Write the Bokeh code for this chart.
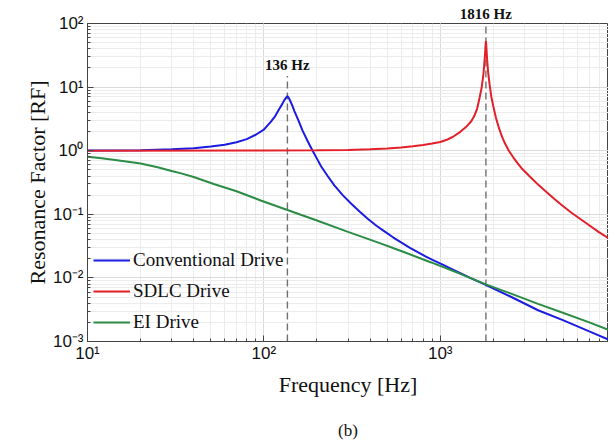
import math
from bokeh.plotting import figure
from bokeh.models import (Label, Legend, LegendItem, Title, Range1d,
                          CustomJSTickFormatter, ColumnDataSource)
from bokeh.embed import file_html
from bokeh.resources import INLINE

# ---- data ----
freq_conv = [10, 20, 30, 40, 50, 60, 70, 80, 90, 100, 110, 116, 122, 127, 131, 134, 136, 138, 141,
             145, 149, 157, 166, 177, 189, 200, 211, 230, 251, 280, 312, 350, 388, 435, 483, 540,
             600, 670, 746, 830, 929, 1040, 1157, 1300, 1500, 1786, 2500, 3588, 5000, 7000, 9000]
rf_conv = [1.005, 1.02, 1.05, 1.095, 1.16, 1.24, 1.36, 1.52, 1.78, 2.15, 2.9, 3.5, 4.5, 5.4, 6.3,
           6.9, 7.2, 6.9, 6.1, 5.1, 4.2, 3.0, 2.05, 1.42, 1.0, 0.75, 0.57, 0.40, 0.285, 0.20,
           0.148, 0.110, 0.085, 0.066, 0.054, 0.0435, 0.0362, 0.0300, 0.0254, 0.0216, 0.0185,
           0.0160, 0.0139, 0.0119, 0.0098, 0.0079, 0.0051, 0.0031, 0.00215, 0.00144, 0.00107]

freq_sdlc = [10, 100, 200, 300, 400, 500, 600, 700, 800, 900, 1000, 1100, 1200, 1300, 1400, 1500,
             1560, 1620, 1672, 1720, 1760, 1790, 1808, 1816, 1825, 1845, 1870, 1905, 1950, 2000,
             2070, 2150, 2230, 2319, 2450, 2600, 2750, 2884, 3200, 3588, 4000, 4460, 5000, 5550,
             6200, 6900, 7900, 9000]
rf_sdlc = [1.0, 1.003, 1.012, 1.03, 1.05, 1.08, 1.12, 1.17, 1.23, 1.3, 1.37, 1.5, 1.7, 1.98, 2.35,
           2.9, 3.5, 4.6, 6.8, 10, 16.5, 29, 46, 53, 45, 27, 17, 11, 7.0, 5.0,
           3.3, 2.3, 1.72, 1.33, 1.0, 0.78, 0.63, 0.535, 0.40, 0.293, 0.225, 0.172, 0.133, 0.106,
           0.085, 0.069, 0.053, 0.042]

freq_ei = [10, 12, 14, 17, 20, 25, 30, 34, 40, 52, 70, 96, 136, 200, 300, 450, 600, 889, 1300,
           1816, 2500, 3588, 5000, 7000, 9000]
rf_ei = [0.80, 0.76, 0.72, 0.67, 0.63, 0.55, 0.48, 0.44, 0.385, 0.30, 0.23, 0.165, 0.117, 0.080,
         0.053, 0.0355, 0.0265, 0.0175, 0.0116, 0.0079, 0.0057, 0.0039, 0.0028, 0.0020, 0.00153]

series_names = ["Conventional Drive", "SDLC Drive", "EI Drive"]
series_colors = ["#1c1ce0", "#e3202a", "#2b8c45"]

peak_freqs = [136, 1816]
peak_labels = ["136 Hz", "1816 Hz"]
peak_line_tops = [15, 100]

x_lim = (10, 9000)
y_lim = (1e-3, 1e2)

SERIF = "Liberation Serif"
SANS = "Liberation Sans"
FRAME_W = 521
FRAME_H = 318
PEAK_FONT_PX = 15

p = figure(frame_width=FRAME_W, frame_height=FRAME_H, x_axis_type="log", y_axis_type="log",
           x_range=Range1d(*x_lim), y_range=Range1d(*y_lim),
           output_backend="svg", toolbar_location=None,
           min_border_left=87, min_border_right=0, min_border_top=23, min_border_bottom=0)

p.outline_line_color = "#444444"
p.outline_line_width = 1

# grids
for g in (p.xgrid, p.ygrid):
    g.grid_line_color = "#dadada"
    g.grid_line_width = 1
    g.minor_grid_line_color = "#ececec"
    g.minor_grid_line_width = 1

# power-of-ten labels with unicode superscripts
pow_fmt = CustomJSTickFormatter(code="""
const sup = {'0':'\\u2070','1':'\\u00b9','2':'\\u00b2','3':'\\u00b3','4':'\\u2074',
             '5':'\\u2075','6':'\\u2076','7':'\\u2077','8':'\\u2078','9':'\\u2079','-':'\\u207b'};
const e = Math.round(Math.log10(tick));
return '10' + String(e).split('').map(c => sup[c]).join('');
""")

# axes styling
for ax in (p.xaxis[0], p.yaxis[0]):
    ax.formatter = pow_fmt
    ax.major_label_text_font = SANS
    ax.major_label_text_font_size = "17px"
    ax.major_label_text_color = "#111111"
    ax.axis_label_text_font = SERIF
    ax.axis_label_text_font_style = "normal"
    ax.axis_label_text_font_size = "22px"
    ax.axis_label_text_color = "#111111"
    ax.axis_line_color = "#444444"
    ax.major_tick_in = 6
    ax.major_tick_out = 0
    ax.minor_tick_in = 3
    ax.minor_tick_out = 0
    ax.major_tick_line_color = "#444444"
    ax.minor_tick_line_color = "#444444"

p.xaxis.axis_label = "Frequency [Hz]"
p.yaxis.axis_label = "Resonance Factor [RF]"
p.xaxis.major_label_standoff = 2
p.xaxis.axis_label_standoff = 6
p.yaxis.major_label_standoff = 4
p.yaxis.axis_label_standoff = 0

# dashed peak markers
seg_src = ColumnDataSource(dict(x=peak_freqs, y0=[y_lim[0]] * len(peak_freqs), y1=peak_line_tops))
p.segment(x0="x", y0="y0", x1="x", y1="y1", source=seg_src,
          line_color="#707070", line_width=1.4, line_dash="7 4")

# peak labels: inside the frame as Label, at the top edge as a Title above the frame
def frac_x(f):
    return (math.log10(f) - math.log10(x_lim[0])) / (math.log10(x_lim[1]) - math.log10(x_lim[0]))

for f, txt, top in zip(peak_freqs, peak_labels, peak_line_tops):
    if top < y_lim[1]:
        p.add_layout(Label(x=f, y=top, text=txt, text_align="center", text_baseline="bottom",
                           y_offset=3, text_font=SERIF, text_font_style="bold",
                           text_font_size=f"{PEAK_FONT_PX}px", text_color="#111111"))
    else:
        half_w = 0.5 * 3.472 * PEAK_FONT_PX  # approx. width of the bold label
        p.add_layout(Title(text=txt, align="left", offset=FRAME_W * frac_x(f) - half_w,
                           text_font=SERIF, text_font_style="bold",
                           text_font_size=f"{PEAK_FONT_PX}px",
                           text_color="#111111", standoff=3), "above")

r_conv = p.line(freq_conv, rf_conv, line_color=series_colors[0], line_width=2)
r_sdlc = p.line(freq_sdlc, rf_sdlc, line_color=series_colors[1], line_width=2)
r_ei = p.line(freq_ei, rf_ei, line_color=series_colors[2], line_width=2)

legend = Legend(items=[LegendItem(label=series_names[0], renderers=[r_conv]),
                       LegendItem(label=series_names[1], renderers=[r_sdlc]),
                       LegendItem(label=series_names[2], renderers=[r_ei])],
                location=(6, 8), orientation="vertical",
                label_text_font=SERIF, label_text_font_size="19px", label_text_color="#111111",
                glyph_width=37, glyph_height=20, label_height=20, spacing=9,
                label_standoff=3, padding=0, margin=0,
                border_line_alpha=0, background_fill_alpha=0)
p.add_layout(legend, "center")

cap = Title(text="(b)", align="center", text_font=SERIF, text_font_style="normal",
            text_font_size="17px", text_color="#111111", standoff=39)
p.add_layout(cap, "below")

open("out.html", "w", encoding="utf-8").write(file_html(p, INLINE))
